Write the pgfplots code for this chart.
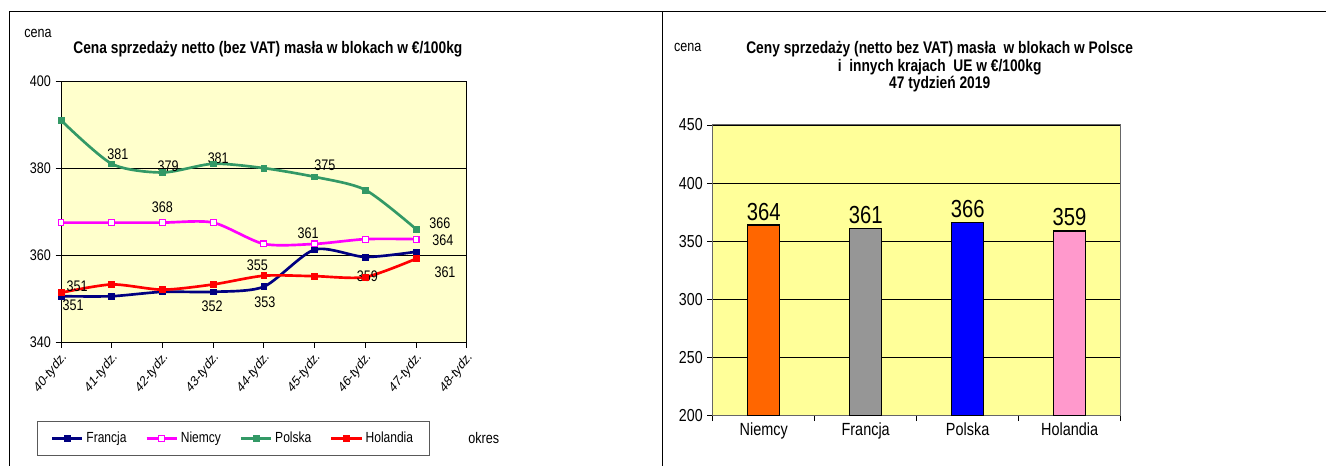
\documentclass[border=0pt]{standalone}
\usepackage{pgfplots}
\pgfplotsset{compat=1.18}
\usepackage{fontspec}
\setmainfont{Liberation Sans}[FakeStretch=0.82]
\newfontfamily\plainfont{Liberation Sans}
\definecolor{bgL}{RGB}{255,255,204}
\definecolor{bgR}{RGB}{255,255,153}
\definecolor{fra}{RGB}{0,0,128}
\definecolor{nie}{RGB}{255,0,255}
\definecolor{pol}{RGB}{51,153,102}
\definecolor{hol}{RGB}{255,0,0}
\definecolor{cNie}{RGB}{255,102,0}
\definecolor{cFra}{RGB}{150,150,150}
\definecolor{cPol}{RGB}{0,0,255}
\definecolor{cHol}{RGB}{255,153,204}
\newcommand{\fs}[1]{\fontsize{#1}{#1}\selectfont}
\begin{document}
\begin{tikzpicture}
\path (0,0) rectangle (994.5pt,-349.5pt);
\draw[line width=0.75pt] (7.5pt,-349.5pt) -- (7.5pt,-8.6pt) -- (994.5pt,-8.6pt);
\draw[line width=0.75pt] (497.25pt,-8.6pt) -- (497.25pt,-349.5pt);
% texts
\node[font=\fs{11.5}] at (28.5pt,-24.75pt) {cena};
\node[font=\bfseries\fs{12.6}] at (201pt,-36.75pt) {Cena sprzedaży netto (bez VAT) masła w blokach w €/100kg};
\node[font=\fs{11.5}] at (363pt,-328.5pt) {okres};
\node[font=\fs{11.5}] at (516pt,-35.25pt) {cena};
\node[font=\bfseries\fs{12.6}, align=center, text depth=0pt] at (705pt,-48.75pt) {Ceny sprzedaży (netto bez VAT) masła\ \ w blokach w Polsce\\[0.8pt] i\ \ innych krajach\ \ UE w €/100kg\\[0.8pt] 47 tydzień 2019};

\begin{axis}[at={(45.75pt,-256.875pt)}, anchor=south west, scale only axis,
  width=304.5pt, height=196.1pt,
  xmin=0, xmax=8, ymin=340, ymax=400,
  xtick={0,...,8},
  xticklabels={40-tydz.,41-tydz.,42-tydz.,43-tydz.,44-tydz.,45-tydz.,46-tydz.,47-tydz.,48-tydz.},
  ytick={340,360,380,400},
  ymajorgrids, grid style={black, line width=0.5pt},
  axis background/.style={fill=bgL},
  axis line style={black, line width=0.6pt},
  tick align=outside, tick pos=left, major tick length=4pt,
  tick style={black, line width=0.6pt},
  /pgf/number format/assume math mode=true,
  /pgf/number format/1000 sep={},
  xticklabel style={xscale=0.78, rotate=45, anchor=north east, font=\plainfont\fs{10.8}, inner sep=1pt},
  yticklabel style={font=\fs{11.5}},
  legend style={at={(-0.059,-0.434)}, anchor=south west, draw=gray!70!black, fill=white,
    font=\fs{11}, inner xsep=10pt, inner ysep=6pt, line width=0.6pt,
    /tikz/every even column/.append style={column sep=12pt}},
  legend columns=4,
  legend image code/.code={\draw[mark repeat=2, mark phase=2, #1] plot coordinates {(0cm,0cm)(0.4cm,0cm)(0.8cm,0cm)};},
  every axis plot/.append style={line width=2pt, smooth, tension=0.45},
  clip=false,
]
\addplot[fra, mark=square*, mark size=2.2pt, mark options={solid, line width=0.5pt}] coordinates {
(0,350.6) (1,350.6) (2,351.6) (3,351.6) (4,352.8) (5,361.3) (6,359.6) (7,360.8)};
\addlegendentry{Francja}
\addplot[nie, mark=square*, mark size=2.2pt, mark options={solid, fill=white, line width=0.8pt}] coordinates {
(0,367.5) (1,367.5) (2,367.5) (3,367.5) (4,362.6) (5,362.6) (6,363.7) (7,363.7)};
\addlegendentry{Niemcy}
\addplot[pol, mark=square*, mark size=2.2pt, mark options={solid, line width=0.5pt}] coordinates {
(0,391) (1,381) (2,379) (3,381) (4,380) (5,378) (6,375) (7,366)};
\addlegendentry{Polska}
\addplot[hol, mark=square*, mark size=2.2pt, mark options={solid, line width=0.5pt}] coordinates {
(0,351.4) (1,353.3) (2,352.1) (3,353.3) (4,355.3) (5,355.2) (6,355) (7,359.2)};
\addlegendentry{Holandia}
\begin{scope}[every node/.style={font=\fs{11.5}, inner sep=0pt}]
\node at (axis cs:1.12,383.2) {381};
\node at (axis cs:2.11,380.5) {379};
\node at (axis cs:3.10,382.3) {381};
\node at (axis cs:5.2,380.7) {375};
\node at (axis cs:2.0,371.1) {368};
\node at (axis cs:7.47,367.4) {366};
\node at (axis cs:7.53,363.5) {364};
\node at (axis cs:4.87,365.1) {361};
\node at (axis cs:3.87,357.8) {355};
\node at (axis cs:6.04,355.3) {359};
\node at (axis cs:7.57,356.2) {361};
\node at (axis cs:0.32,353.0) {351};
\node at (axis cs:0.24,348.6) {351};
\node at (axis cs:2.98,348.4) {352};
\node at (axis cs:4.02,349.3) {353};
\end{scope}
\end{axis}

\begin{axis}[at={(534.75pt,-312pt)}, anchor=south west, scale only axis,
  width=306pt, height=218.25pt,
  xmin=0.5, xmax=4.5, ymin=200, ymax=450,
  ytick={200,250,...,450},
  xtick={0.5,1.5,2.5,3.5,4.5}, xticklabels={},
  extra x ticks={1,2,3,4},
  extra x tick labels={Niemcy,Francja,Polska,Holandia},
  extra x tick style={major tick length=0pt},
  ymajorgrids, grid style={black, line width=0.6pt},
  axis background/.style={fill=bgR},
  axis line style={gray!80!black, line width=0.8pt},
  tick align=outside, tick pos=left, major tick length=4pt,
  tick style={black, line width=0.6pt},
  /pgf/number format/assume math mode=true,
  yticklabel style={font=\fs{13}},
  xticklabel style={font=\fs{13.2}, yshift=-2pt},
  bar width=24pt,
  nodes near coords,
  every node near coord/.append style={font=\fs{18.5}, black, inner sep=3pt},
]
\addplot[ybar, bar shift=0pt, fill=cNie, draw=black, line width=1pt] coordinates {(1,364)};
\addplot[ybar, bar shift=0pt, fill=cFra, draw=black, line width=1pt] coordinates {(2,361)};
\addplot[ybar, bar shift=0pt, fill=cPol, draw=black, line width=1pt] coordinates {(3,366)};
\addplot[ybar, bar shift=0pt, fill=cHol, draw=black, line width=1pt] coordinates {(4,359)};
\end{axis}
\end{tikzpicture}
\end{document}
